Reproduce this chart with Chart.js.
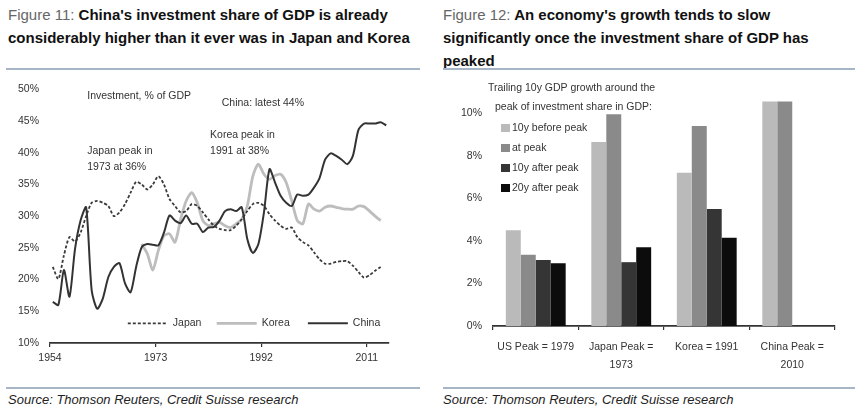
<!DOCTYPE html>
<html lang="en">
  <head>
    <meta charset="UTF-8" />
    <title>Investment share of GDP</title>
    <script src="https://cdn.jsdelivr.net/npm/chart.js"></script>
    <style>
      body {
        margin: 0;
        width: 857px;
        height: 418px;
        background: #ffffff;
        font-family: 'Liberation Sans Narrow', 'Arial Narrow', 'Liberation Sans', Arial, sans-serif;
        position: relative;
        overflow: hidden;
      }
      .ttl {
        position: absolute;
        font-size: 15px;
        font-weight: bold;
        line-height: 23px;
        color: #111;
        white-space: nowrap;
      }
      .ttl .fig {
        font-weight: normal;
        color: #666;
      }
      .rule {
        position: absolute;
        height: 2px;
        background: #a7b6c6;
      }
      .src {
        position: absolute;
        font-family: 'Liberation Sans', Arial, sans-serif;
        font-style: italic;
        font-size: 13px;
        color: #222;
        line-height: 16px;
      }
      .box {
        position: absolute;
      }
    </style>
  </head>
  <body>
    <div class="ttl" style="left: 8px; top: 3px">
      <span class="fig">Figure 11:</span> China's investment share of GDP is already<br />
      considerably higher than it ever was in Japan and Korea
    </div>
    <div class="ttl" style="left: 443px; top: 3px">
      <span class="fig">Figure 12:</span> An economy's growth tends to slow<br />
      significantly once the investment share of GDP has<br />
      peaked
    </div>
    <div class="rule" style="left: 6px; top: 68px; width: 414px"></div>
    <div class="rule" style="left: 443px; top: 68px; width: 412px"></div>

    <div class="box" style="left: 0; top: 72px; width: 420px; height: 300px">
      <canvas id="lineChart"></canvas>
    </div>
    <div class="box" style="left: 430px; top: 72px; width: 427px; height: 310px">
      <canvas id="barChart"></canvas>
    </div>

    <div class="rule" style="left: 6px; top: 387px; width: 414px"></div>
    <div class="rule" style="left: 443px; top: 387px; width: 412px"></div>
    <div class="src" style="left: 8px; top: 392px">Source: Thomson Reuters, Credit Suisse research</div>
    <div class="src" style="left: 443px; top: 392px">Source: Thomson Reuters, Credit Suisse research</div>

    <script>
      const FONT = "'Liberation Sans Narrow', 'Arial Narrow', 'Liberation Sans', Arial, sans-serif";
      Chart.defaults.font.family = FONT;
      Chart.defaults.color = '#333';

      // ---- Figure 11 data: investment, % of GDP ----
      const years = [];
      for (let y = 1954; y <= 2014; y++) years.push(y);

      const japan = [
        22.0, 20.1, 23.8, 26.7, 26.0, 27.4, 30.0, 32.1, 32.4, 32.1,
        31.6, 30.0, 30.6, 31.9, 33.7, 35.4, 35.0, 34.2, 35.0, 36.3,
        35.0, 32.7, 31.6, 30.6, 30.8, 31.9, 31.6, 30.6, 29.5, 28.5,
        28.0, 27.8, 27.8, 28.5, 29.5, 30.8, 31.9, 32.1, 31.6, 30.3,
        29.3, 28.5, 28.0, 28.2, 26.7, 25.9, 25.4, 24.3, 23.2, 22.5,
        22.5, 22.8, 22.9, 22.9, 22.2, 21.2, 20.3, 20.7, 21.4, 22.0, null,
      ];
      const korea = [
        null, null, null, null, null, null, null, null, null, null,
        null, null, null, null, null, null, 25.6, 24.1, 21.5, 24.6,
        26.9, 27.2, 25.9, 29.5, 32.4, 33.7, 32.1, 29.3, 28.5, 28.8,
        29.0, 28.5, 28.2, 28.8, 29.5, 31.6, 36.3, 38.2, 36.6, 35.8,
        36.4, 36.6, 35.3, 32.4, 29.3, 28.8, 31.9, 31.1, 30.8, 31.4,
        31.6, 31.4, 31.2, 31.1, 31.1, 31.6, 31.5, 30.8, 30.0, 29.3, null,
      ];
      const china = [
        16.5, 16.0, 21.5, 17.3, 24.8, 29.3, 31.4, 18.3, 15.4, 17.0,
        20.4, 22.0, 22.6, 19.4, 18.0, 22.0, 25.1, 25.6, 25.5, 25.4,
        27.4, 30.1, 29.3, 28.9, 30.1, 28.8, 28.8, 27.5, 28.2, 28.3,
        29.3, 30.8, 31.1, 30.8, 31.4, 26.4, 24.2, 25.6, 30.6, 37.4,
        35.3, 33.2, 32.1, 31.6, 33.4, 33.2, 33.4, 34.5, 36.0, 38.9,
        39.9, 39.5, 38.9, 38.2, 39.5, 43.6, 44.6, 44.6, 44.6, 44.8, 44.3,
      ];
      const xTickYears = [1954, 1973, 1992, 2011];

      // ---- Figure 12 data: trailing 10y GDP growth, % ----
      const peakLabels = [
        'US Peak = 1979',
        ['Japan Peak =', '1973'],
        'Korea = 1991',
        ['China Peak =', '2010'],
      ];
      const before10y = [4.5, 8.65, 7.2, 10.55];
      const atPeak = [3.35, 9.95, 9.4, 10.55];
      const after10y = [3.1, 3.0, 5.5, null];
      const after20y = [2.95, 3.7, 4.15, null];

      function toPoints(values) {
        // points sit mid-year between the yearly tick marks
        return years.map((y, i) => ({ x: y + 0.5, y: values[i] }));
      }

      const lineNotes = {
        id: 'lineNotes',
        afterDraw(chart) {
          const ctx = chart.ctx;
          const xs = chart.scales.x;
          const ys = chart.scales.y;
          ctx.save();
          ctx.fillStyle = '#333';
          ctx.font = '10.5px ' + FONT;
          ctx.textBaseline = 'middle';
          ctx.textAlign = 'left';
          const notes = [
            ['Investment, % of GDP', 1960.7, 49.0],
            ['China: latest 44%', 1984.9, 47.9],
            ['Japan peak in', 1960.7, 40.2],
            ['1973 at 36%', 1960.7, 37.7],
            ['Korea peak in', 1982.8, 42.7],
            ['1991 at 38%', 1982.8, 40.3],
          ];
          notes.forEach(([t, x, y]) => {
            ctx.fillText(t, xs.getPixelForValue(x), ys.getPixelForValue(y));
          });

          // legend inside the plot, along the bottom
          const ly = ys.getPixelForValue(13.1);
          chart.data.datasets
            .slice()
            .sort((a, b) => a.legendPos - b.legendPos)
            .forEach((ds) => {
              const x0 = xs.getPixelForValue(ds.legendYear);
              ctx.beginPath();
              ctx.strokeStyle = ds.borderColor;
              ctx.lineWidth = ds.borderWidth;
              ctx.setLineDash(ds.borderDash || []);
              ctx.moveTo(x0, ly);
              ctx.lineTo(x0 + 40, ly);
              ctx.stroke();
              ctx.setLineDash([]);
              ctx.fillText(ds.label, x0 + 45, ly);
            });
          ctx.restore();
        },
      };

      const barLegend = {
        id: 'barLegend',
        afterDraw(chart) {
          const ctx = chart.ctx;
          const xs = chart.scales.x;
          const left = xs.left;
          ctx.save();
          ctx.fillStyle = '#333';
          ctx.font = '10.5px ' + FONT;
          ctx.textBaseline = 'middle';
          ctx.textAlign = 'left';
          ctx.fillText('Trailing 10y GDP growth around the', left - 5, 16);
          ctx.fillText('peak of investment share in GDP:', left + 2, 35);
          chart.data.datasets.forEach((ds, i) => {
            const y = 56 + i * 20;
            ctx.fillStyle = ds.backgroundColor;
            ctx.fillRect(left + 8, y - 4, 9, 8);
            ctx.fillStyle = '#333';
            ctx.fillText(ds.label, left + 19, y);
          });
          ctx.restore();
        },
      };

      function drawCharts() {
        new Chart(document.getElementById('lineChart'), {
          type: 'line',
          data: {
            datasets: [
              {
                label: 'China',
                data: toPoints(china),
                borderColor: '#333333',
                borderWidth: 2,
                legendPos: 3,
                legendYear: 2000.4,
              },
              {
                label: 'Japan',
                data: toPoints(japan),
                borderColor: '#3a3a3a',
                borderWidth: 1.8,
                borderDash: [3, 2],
                legendPos: 1,
                legendYear: 1968.0,
              },
              {
                label: 'Korea',
                data: toPoints(korea),
                borderColor: '#bdbdbd',
                borderWidth: 2.8,
                legendPos: 2,
                legendYear: 1984.0,
              },
            ],
          },
          options: {
            responsive: true,
            maintainAspectRatio: false,
            animation: false,
            layout: { padding: { top: 17, right: 31, bottom: 2, left: 0 } },
            elements: {
              point: { radius: 0 },
              line: { tension: 0.25 },
            },
            plugins: {
              legend: { display: false },
              tooltip: { enabled: false },
            },
            scales: {
              x: {
                type: 'linear',
                min: 1954,
                max: 2015,
                afterBuildTicks: (s) => {
                  s.ticks = xTickYears.map((v) => ({ value: v }));
                },
                afterFit: (s) => {
                  s.height = 27;
                },
                ticks: {
                  font: { size: 10.5 },
                  color: '#333',
                  padding: 5,
                  maxRotation: 0,
                  autoSkip: false,
                  callback: (v) => String(v),
                },
                grid: {
                  display: true,
                  drawOnChartArea: false,
                  drawTicks: true,
                  tickLength: 4,
                  color: '#333',
                  lineWidth: 1.2,
                },
                border: { display: true, color: '#333', width: 1.8 },
              },
              y: {
                min: 10,
                max: 50,
                afterFit: (s) => {
                  s.width = 50;
                },
                ticks: {
                  stepSize: 5,
                  font: { size: 10.5 },
                  color: '#333',
                  padding: 11,
                  callback: (v) => v + '%',
                },
                grid: { display: false, drawTicks: false },
                border: { display: false },
              },
            },
          },
          plugins: [lineNotes],
        });

        new Chart(document.getElementById('barChart'), {
          type: 'bar',
          data: {
            labels: peakLabels,
            datasets: [
              { label: '10y before peak', data: before10y, backgroundColor: '#bababa' },
              { label: 'at peak', data: atPeak, backgroundColor: '#8a8a8a' },
              { label: '10y after peak', data: after10y, backgroundColor: '#353535' },
              { label: '20y after peak', data: after20y, backgroundColor: '#0c0c0c' },
            ],
          },
          options: {
            responsive: true,
            maintainAspectRatio: false,
            animation: false,
            layout: { padding: { top: 20, right: 22, bottom: 6, left: 0 } },
            datasets: {
              bar: { categoryPercentage: 0.7, barPercentage: 1.0 },
            },
            plugins: {
              legend: { display: false },
              tooltip: { enabled: false },
            },
            scales: {
              x: {
                afterFit: (s) => {
                  s.height = 50;
                },
                ticks: {
                  font: { size: 10.5, lineHeight: 1.75 },
                  color: '#333',
                  padding: 8,
                  maxRotation: 0,
                  autoSkip: false,
                },
                grid: {
                  display: true,
                  offset: true,
                  drawOnChartArea: false,
                  drawTicks: true,
                  tickLength: 4,
                  color: '#333',
                  lineWidth: 1.2,
                },
                border: { display: true, color: '#333', width: 1.8 },
              },
              y: {
                min: 0,
                max: 11,
                afterBuildTicks: (s) => {
                  s.ticks = s.ticks.filter((t) => t.value <= 10);
                },
                afterFit: (s) => {
                  s.width = 63;
                },
                ticks: {
                  stepSize: 2,
                  font: { size: 10.5 },
                  color: '#333',
                  padding: 11,
                  callback: (v) => v + '%',
                },
                grid: { display: false, drawTicks: false },
                border: { display: false },
              },
            },
          },
          plugins: [barLegend],
        });
      }

      // make sure the narrow face is ready before the canvases draw text
      const fontReady = document.fonts
        ? document.fonts.load("12px 'Liberation Sans Narrow'").catch(() => null)
        : Promise.resolve();
      fontReady.then(drawCharts, drawCharts);
    </script>
  </body>
</html>
